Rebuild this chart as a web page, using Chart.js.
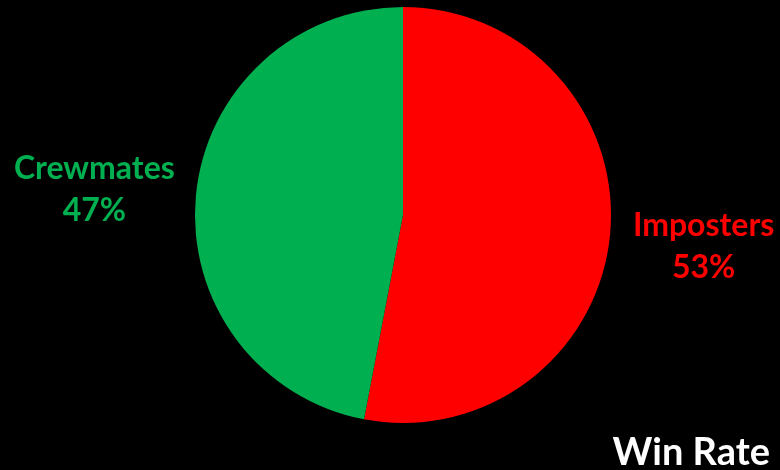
<!DOCTYPE html>
<html lang="en">
<head>
    <meta charset="UTF-8">
    <title>Win Rate</title>
    <style>
        html, body {
            margin: 0;
            padding: 0;
            background: #000;
        }
        #wrap {
            width: 780px;
            height: 470px;
        }
    </style>
    <script src="https://cdn.jsdelivr.net/npm/chart.js"></script>
</head>
<body>
    <div id="wrap"><canvas id="chart"></canvas></div>

    <script>
        const labels = ['Imposters', 'Crewmates'];
        const winRates = [53, 47];
        const colors = ['#FF0000', '#00B050'];
        const chartTitle = 'Win Rate';

        const FONT = 'Lato, "Open Sans", sans-serif';

        // labels outside each slice, plus the title in the corner
        const outsideLabels = {
            id: 'outsideLabels',
            afterDraw(chart) {
                const ctx = chart.ctx;
                const arcs = chart.getDatasetMeta(0).data;
                ctx.save();
                ctx.textAlign = 'center';
                ctx.textBaseline = 'middle';
                ctx.font = 'bold 32px ' + FONT;
                arcs.forEach((arc, i) => {
                    const mid = (arc.startAngle + arc.endAngle) / 2;
                    const dist = arc.outerRadius + 98;
                    const x = arc.x + Math.cos(mid) * dist - 4;
                    const y = arc.y + Math.sin(mid) * dist + 3;
                    ctx.fillStyle = colors[i];
                    ctx.fillText(labels[i], x, y - 21);
                    ctx.fillText(winRates[i] + '%', x, y + 21);
                });
                ctx.fillStyle = '#FFFFFF';
                ctx.font = 'bold 38px ' + FONT;
                ctx.textAlign = 'right';
                ctx.textBaseline = 'alphabetic';
                ctx.fillText(chartTitle, chart.width - 10, chart.height - 5);
                ctx.restore();
            }
        };

        new Chart(document.getElementById('chart'), {
            type: 'pie',
            data: {
                labels: labels,
                datasets: [{
                    data: winRates,
                    backgroundColor: colors,
                    borderWidth: 0
                }]
            },
            options: {
                responsive: true,
                maintainAspectRatio: false,
                animation: false,
                layout: {
                    padding: { left: 195, right: 169, top: 7, bottom: 47 }
                },
                plugins: {
                    legend: { display: false },
                    tooltip: { enabled: false }
                }
            },
            plugins: [outsideLabels]
        });
    </script>
</body>
</html>
